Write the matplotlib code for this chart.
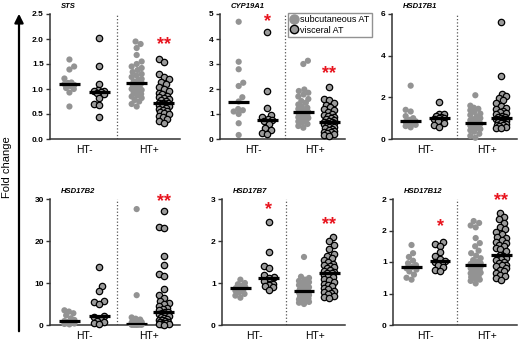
import numpy as np
import matplotlib
matplotlib.use('Agg')
import matplotlib.pyplot as plt
from matplotlib.lines import Line2D

plt.rcParams['font.family'] = ['Liberation Sans', 'DejaVu Sans']

# ---- data (fold change), sc = subcutaneous AT, vi = visceral AT ----
STS_SC_NEG = [1.59, 1.45, 1.39, 1.21, 1.13, 1.12, 1.10, 1.08, 1.06, 1.02, 1.00, 0.93, 0.65]
STS_VI_NEG = [2.03, 1.46, 1.11, 0.99, 0.97, 0.96, 0.95, 0.93, 0.90, 0.83, 0.71, 0.69, 0.45]
STS_SC_POS = [1.95, 1.90, 1.82, 1.68, 1.55, 1.50, 1.45, 1.42, 1.38, 1.34, 1.30, 1.27, 1.24,
              1.20, 1.18, 1.15, 1.12, 1.10, 1.08, 1.05, 1.02, 1.00, 0.98, 0.95, 0.92, 0.90,
              0.87, 0.85, 0.82, 0.78, 0.75, 0.70, 0.65]
STS_VI_POS = [1.60, 1.55, 1.30, 1.25, 1.20, 1.15, 1.10, 1.05, 1.00, 0.97, 0.93, 0.90, 0.87,
              0.84, 0.82, 0.80, 0.78, 0.76, 0.73, 0.72, 0.72, 0.70, 0.70, 0.68, 0.66, 0.65,
              0.63, 0.60, 0.58, 0.56, 0.54, 0.52, 0.50, 0.47, 0.44, 0.41, 0.37, 0.33]

CYP_SC_NEG = [4.69, 3.09, 2.79, 2.25, 2.12, 1.67, 1.50, 1.20, 1.15, 1.10, 1.00, 0.63, 0.16]
CYP_VI_NEG = [4.29, 1.92, 1.25, 0.95, 0.90, 0.82, 0.76, 0.72, 0.62, 0.45, 0.38, 0.25, 0.20]
CYP_SC_POS = [3.13, 3.00, 1.98, 1.92, 1.85, 1.78, 1.70, 1.60, 1.52, 1.45, 1.38, 1.30, 1.25,
              1.20, 1.15, 1.08, 1.05, 1.02, 1.00, 0.98, 0.95, 0.92, 0.90, 0.87, 0.84, 0.80,
              0.75, 0.70, 0.65, 0.60, 0.52, 0.45]
CYP_VI_POS = [2.08, 1.62, 1.55, 1.45, 1.38, 1.30, 1.22, 1.15, 1.10, 1.02, 0.97, 0.92, 0.88,
              0.84, 0.80, 0.76, 0.73, 0.70, 0.68, 0.66, 0.64, 0.62, 0.60, 0.57, 0.54, 0.50,
              0.47, 0.44, 0.40, 0.36, 0.32, 0.30, 0.28, 0.25, 0.20, 0.16, 0.12]

B1_SC_NEG = [2.56, 1.40, 1.32, 1.10, 1.00, 0.92, 0.85, 0.82, 0.78, 0.72, 0.68, 0.62, 0.56]
B1_VI_NEG = [1.80, 1.22, 1.18, 1.12, 1.08, 1.02, 0.99, 0.96, 0.92, 0.85, 0.75, 0.65, 0.60]
B1_SC_POS = [2.10, 1.60, 1.50, 1.45, 1.38, 1.30, 1.22, 1.15, 1.08, 1.00, 0.95, 0.90, 0.86,
             0.83, 0.80, 0.78, 0.76, 0.74, 0.72, 0.70, 0.67, 0.64, 0.60, 0.56, 0.52, 0.48,
             0.42, 0.35, 0.25, 0.15, 0.06]
B1_VI_POS = [5.60, 3.02, 2.15, 2.05, 1.95, 1.85, 1.75, 1.60, 1.50, 1.42, 1.35, 1.30, 1.25,
             1.18, 1.12, 1.08, 1.04, 1.00, 0.98, 0.96, 0.94, 0.92, 0.90, 0.88, 0.85, 0.82,
             0.78, 0.75, 0.72, 0.68, 0.65, 0.62, 0.58, 0.55, 0.51]

B2_SC_NEG = [3.5, 3.2, 2.8, 2.3, 1.6, 1.2, 0.95, 0.8, 0.6, 0.45, 0.35, 0.25, 0.15]
B2_VI_NEG = [13.9, 9.3, 8.1, 5.7, 5.4, 5.0, 2.2, 1.8, 1.2, 0.9, 0.6, 0.4, 0.2]
B2_SC_POS = [27.6, 7.1, 1.8, 1.5, 1.3, 1.1, 0.9, 0.8, 0.7, 0.6, 0.55, 0.5, 0.45, 0.4, 0.38,
             0.35, 0.32, 0.3, 0.28, 0.25, 0.22, 0.2, 0.18, 0.16, 0.14, 0.12, 0.1, 0.1, 0.08,
             0.06, 0.05, 0.04, 0.03]
B2_VI_POS = [27.1, 23.4, 23.0, 16.5, 14.4, 12.1, 11.7, 8.6, 7.1, 6.5, 5.8, 5.3, 4.9, 4.5,
             4.1, 3.8, 3.5, 3.2, 3.1, 2.9, 2.6, 2.4, 2.1, 1.9, 1.7, 1.5, 1.3, 1.1, 0.9, 0.8,
             0.6, 0.5, 0.4, 0.3, 0.2, 0.15, 0.1]

B7_SC_NEG = [1.08, 1.00, 0.97, 0.93, 0.90, 0.88, 0.87, 0.85, 0.82, 0.78, 0.74, 0.70, 0.65]
B7_VI_NEG = [2.46, 1.73, 1.41, 1.36, 1.20, 1.15, 1.13, 1.05, 0.98, 0.95, 0.92, 0.90, 0.83]
B7_SC_POS = [1.62, 1.15, 1.12, 1.08, 1.05, 1.02, 1.00, 0.98, 0.95, 0.92, 0.90, 0.88, 0.86,
             0.85, 0.84, 0.83, 0.81, 0.80, 0.79, 0.77, 0.75, 0.73, 0.71, 0.69, 0.67, 0.65,
             0.63, 0.61, 0.59, 0.57, 0.55, 0.53, 0.50]
B7_VI_POS = [2.10, 2.00, 1.90, 1.82, 1.68, 1.64, 1.60, 1.55, 1.50, 1.46, 1.42, 1.40, 1.38,
             1.35, 1.32, 1.29, 1.27, 1.25, 1.23, 1.20, 1.17, 1.14, 1.10, 1.06, 1.02, 0.98,
             0.95, 0.92, 0.88, 0.85, 0.82, 0.79, 0.76, 0.73, 0.70, 0.67, 0.64]

B12_SC_NEG = [1.27, 1.14, 1.08, 1.02, 0.98, 0.95, 0.92, 0.90, 0.88, 0.85, 0.80, 0.75, 0.72]
B12_VI_NEG = [1.32, 1.28, 1.25, 1.16, 1.10, 1.05, 1.02, 1.00, 0.97, 0.95, 0.92, 0.88, 0.85]
B12_SC_POS = [1.65, 1.62, 1.58, 1.55, 1.38, 1.30, 1.25, 1.18, 1.14, 1.10, 1.06, 1.03, 1.00,
              0.98, 0.97, 0.96, 0.95, 0.94, 0.93, 0.92, 0.90, 0.88, 0.86, 0.85, 0.83, 0.82,
              0.80, 0.78, 0.76, 0.74, 0.72, 0.70, 0.66]
B12_VI_POS = [1.78, 1.72, 1.68, 1.62, 1.55, 1.52, 1.48, 1.45, 1.40, 1.38, 1.35, 1.32, 1.30,
              1.27, 1.25, 1.22, 1.20, 1.18, 1.11, 1.10, 1.08, 1.06, 1.05, 1.03, 1.00, 0.98,
              0.96, 0.95, 0.93, 0.90, 0.88, 0.85, 0.83, 0.80, 0.78, 0.75, 0.72]

GENES = ['STS', 'CYP19A1', 'HSD17B1', 'HSD17B2', 'HSD17B7', 'HSD17B12']
GROUP_DATA = [
    [STS_SC_NEG, STS_VI_NEG, STS_SC_POS, STS_VI_POS],
    [CYP_SC_NEG, CYP_VI_NEG, CYP_SC_POS, CYP_VI_POS],
    [B1_SC_NEG, B1_VI_NEG, B1_SC_POS, B1_VI_POS],
    [B2_SC_NEG, B2_VI_NEG, B2_SC_POS, B2_VI_POS],
    [B7_SC_NEG, B7_VI_NEG, B7_SC_POS, B7_VI_POS],
    [B12_SC_NEG, B12_VI_NEG, B12_SC_POS, B12_VI_POS],
]
YTICKS = [[0, 0.5, 1.0, 1.5, 2.0, 2.5], [0, 1, 2, 3, 4, 5], [0, 2, 4, 6],
          [0, 10, 20, 30], [0, 1, 2, 3], [0, 0.5, 1.0, 1.5, 2.0]]
YTICKLABELS = [['0.0', '0.5', '1.0', '1.5', '2.0', '2.5'], ['0', '1', '2', '3', '4', '5'],
               ['0', '2', '4', '6'], ['0', '10', '20', '30'], ['0', '1', '2', '3'],
               ['0', '1', '1', '2', '2']]
XLABELS = ['HT-', 'HT+']
# significance marks: (group index, text, y value)
STARS = [[(3, '**', 1.88)], [(1, '*', 4.69), (3, '**', 2.6)], [],
         [(3, '**', 29.5)], [(1, '*', 2.74), (3, '**', 2.4)], [(1, '*', 1.56), (3, '**', 1.98)]]

SC_COLOR = '#939393'
VI_COLOR = '#9b9b9b'
GROUP_X = [1.0, 2.0, 3.25, 4.15]


def swarm_x(ax, x0, vals, d=5.6, maxw=5.0):
    # simple beeswarm in pixel space, points may overlap when crowded
    pts = ax.transData.transform(np.column_stack([np.full(len(vals), x0), vals]))
    ypix = pts[:, 1]
    order = np.argsort(ypix)
    px_l, py_l = [], []
    offs = np.zeros(len(vals))
    for i in order:
        y = ypix[i]
        cands = [0.0]
        for px, py in zip(px_l, py_l):
            dy = abs(y - py)
            if dy < d:
                dx = np.sqrt(d * d - dy * dy)
                cands += [px + dx, px - dx]
        cands = sorted(cands, key=abs)
        best = None
        for c in cands:
            if abs(c) > maxw:
                continue
            if all((c - px) ** 2 + (y - py) ** 2 >= d * d - 1e-6 for px, py in zip(px_l, py_l)):
                best = c
                break
        if best is None:
            grid = np.linspace(-maxw, maxw, 21)
            score = [min((g - px) ** 2 + (y - py) ** 2 for px, py in zip(px_l, py_l)) - 0.01 * abs(g)
                     for g in grid]
            best = grid[int(np.argmax(score))]
        offs[i] = best
        px_l.append(best)
        py_l.append(y)
    back = ax.transData.inverted().transform(np.column_stack([pts[:, 0] + offs, ypix]))
    return back[:, 0]


fig = plt.figure(figsize=(5.2, 3.42), dpi=100)
W, H = 520.0, 342.0
# axes boxes in pixels: left, top, right, bottom
boxes = [(50, 14, 180, 139), (220, 14, 345, 139), (392, 14, 517, 139),
         (50, 199, 180, 325), (222, 199, 345, 325), (393, 199, 517, 325)]

for k, gene in enumerate(GENES):
    l, t, r, b = boxes[k]
    ax = fig.add_axes([l / W, 1 - b / H, (r - l) / W, (b - t) / H])
    ax.set_xlim(0.35, 4.7)
    ax.set_ylim(YTICKS[k][0], YTICKS[k][-1])
    for s in ['top', 'right']:
        ax.spines[s].set_visible(False)
    for s in ['left', 'bottom']:
        ax.spines[s].set_linewidth(1.1)
        ax.spines[s].set_color('#333333')
    ax.set_yticks(YTICKS[k])
    ax.set_yticklabels(YTICKLABELS[k], fontweight='bold', fontsize=6)
    ax.set_xticks([1.5, 3.65])
    ax.set_xticklabels(XLABELS, fontsize=7.5)
    ax.tick_params(axis='x', length=0, pad=4)
    ax.tick_params(axis='y', length=3, width=1, pad=1.5, color='#333333')
    ax.axvline(2.6, color='#555555', ls=':', lw=0.9)

    for g, vals in enumerate(GROUP_DATA[k]):
        vals = np.array(vals)
        xs = swarm_x(ax, GROUP_X[g], vals)
        if g % 2 == 0:
            ax.scatter(xs, vals, s=20, color=SC_COLOR, edgecolors='none', zorder=3, clip_on=False)
        else:
            ax.scatter(xs, vals, s=21, color=VI_COLOR, edgecolors='black', linewidths=0.9,
                       zorder=3, clip_on=False)
        med = np.median(vals)
        ax.hlines(med, GROUP_X[g] - 0.36, GROUP_X[g] + 0.36, color='black', lw=2.3, zorder=4)

    for g, txt, yv in STARS[k]:
        ax.text(GROUP_X[g], yv, txt, color='#e8141e', fontsize=13, ha='center', va='center',
                fontweight='bold')

    ax.annotate(gene, xy=(0, 1), xycoords='axes fraction', xytext=(8, 3),
                textcoords='offset points', ha='left', va='bottom', fontsize=5.5,
                fontweight='bold', fontstyle='italic')

# y label with arrow
fig.text(7.5 / W, 0.51, 'Fold change', rotation=90, ha='center', va='center', fontsize=8)
fig.add_artist(matplotlib.patches.FancyArrowPatch((19 / W, 1 - 334 / H), (19 / W, 1 - 11 / H),
                                                  transform=fig.transFigure, arrowstyle='-|>',
                                                  mutation_scale=13, lw=1.6, color='black'))

handles = [Line2D([], [], ls='none', marker='o', ms=6.5, color=SC_COLOR, markeredgecolor=SC_COLOR),
           Line2D([], [], ls='none', marker='o', ms=6.0, color=VI_COLOR, markeredgecolor='black',
                  markeredgewidth=1.0)]
leg = fig.legend(handles, ['subcutaneous AT', 'visceral AT'], loc='upper left',
                 bbox_to_anchor=(288 / W, 1 - 13 / H), frameon=True, fancybox=False,
                 edgecolor='#777777', fontsize=6.5, handlelength=0.8, handletextpad=0.3,
                 borderpad=0.25, labelspacing=0.15, borderaxespad=0)
leg.get_frame().set_linewidth(1.0)

fig.savefig('out.png', dpi=100)
